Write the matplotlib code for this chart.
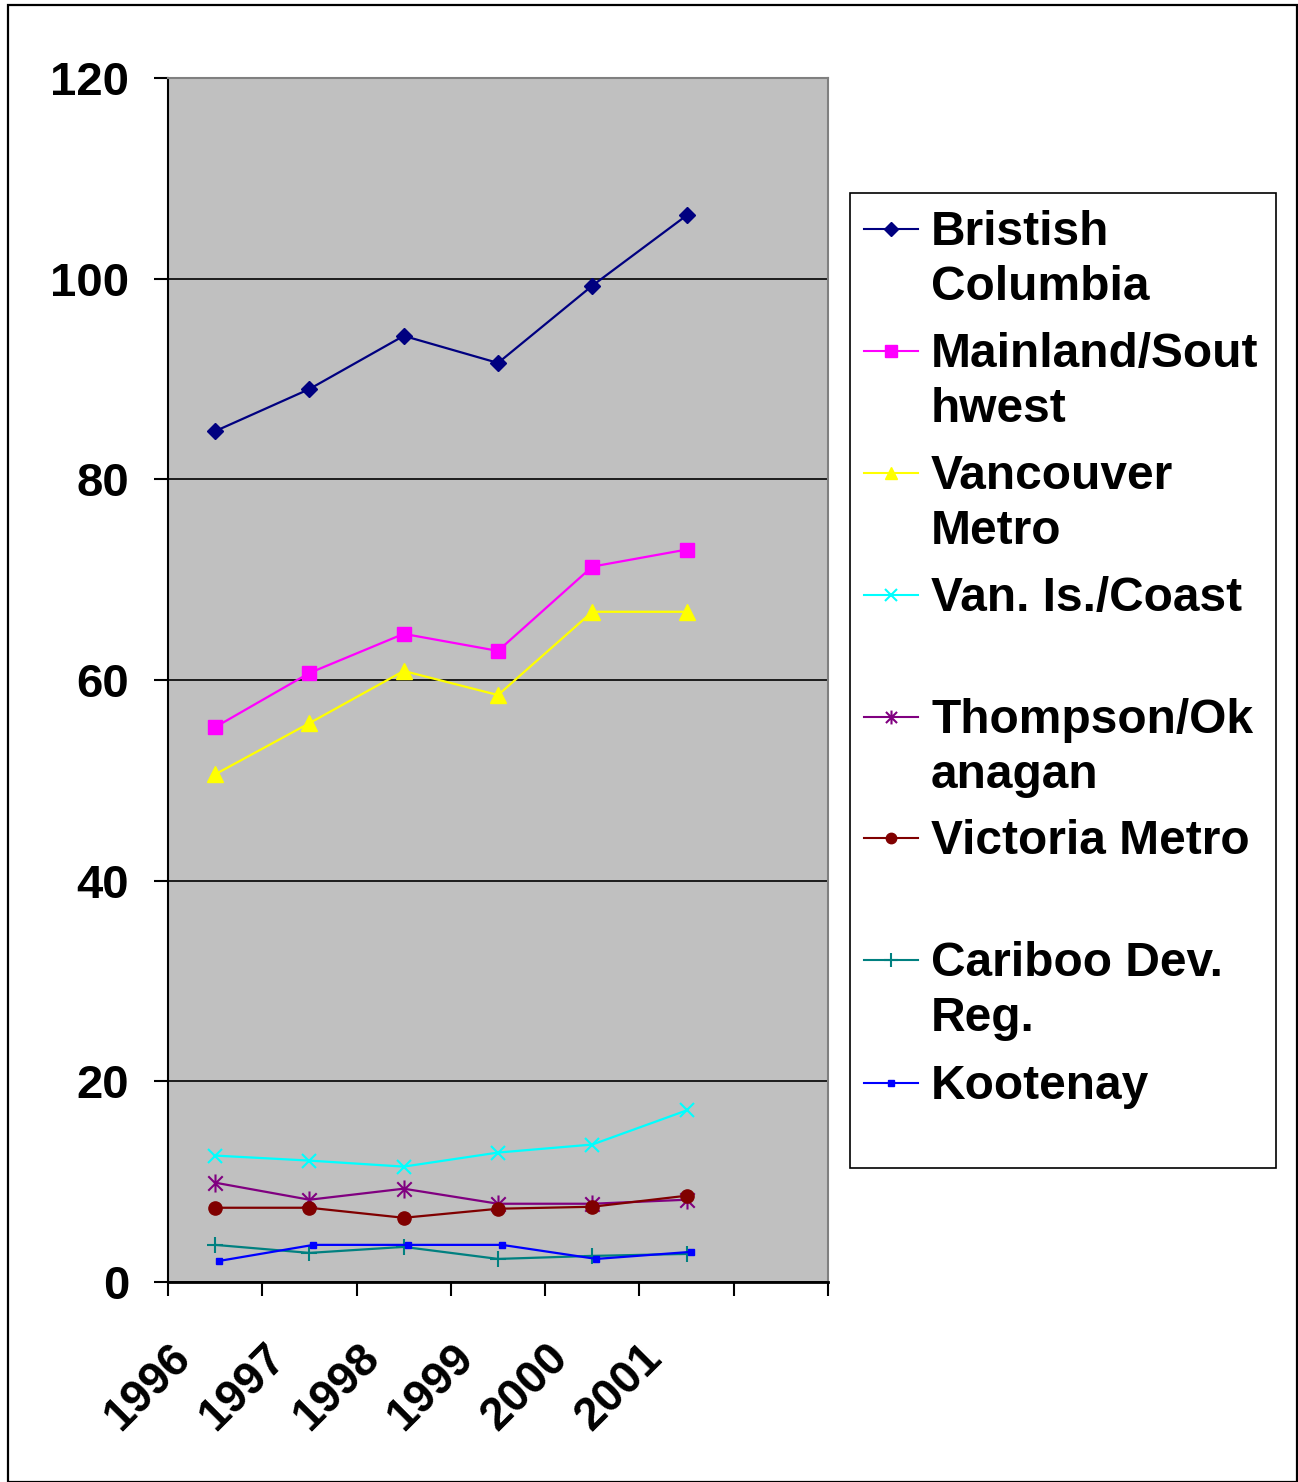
import matplotlib
matplotlib.use("Agg")
import matplotlib.pyplot as plt
from matplotlib.lines import Line2D
from matplotlib.patches import Rectangle
from matplotlib.path import Path
import matplotlib.transforms as mtransforms

plt.rcParams['font.family'] = ['Liberation Sans', 'DejaVu Sans']
plt.rcParams['font.weight'] = 'bold'

# Data
years = ['1996', '1997', '1998', '1999', '2000', '2001']
bc = [84.8, 89.0, 94.3, 91.6, 99.3, 106.3]
mainland = [55.3, 60.7, 64.6, 62.9, 71.3, 73.0]
vancouver = [50.6, 55.7, 60.9, 58.5, 66.8, 66.8]
van_island = [12.6, 12.1, 11.5, 12.9, 13.7, 17.1]
thompson = [9.9, 8.2, 9.3, 7.8, 7.8, 8.2]
victoria = [7.4, 7.4, 6.4, 7.3, 7.5, 8.6]
cariboo = [3.7, 2.9, 3.5, 2.3, 2.6, 2.8]
kootenay = [2.1, 3.7, 3.7, 3.7, 2.3, 3.0]

labels = ['Bristish\nColumbia', 'Mainland/Sout\nhwest', 'Vancouver\nMetro',
          'Van. Is./Coast', 'Thompson/Ok\nanagan', 'Victoria Metro',
          'Cariboo Dev.\nReg.', 'Kootenay']

# asterisk marker like excel's star
star = Path([(0, -1), (0, 1), (-0.8, -0.8), (0.8, 0.8), (-0.8, 0.8), (0.8, -0.8)],
            [Path.MOVETO, Path.LINETO, Path.MOVETO, Path.LINETO, Path.MOVETO, Path.LINETO])

styles = [
    dict(color='#000080', marker='D', ms=8.5),
    dict(color='#FF00FF', marker='s', ms=10.5),
    dict(color='#FFFF00', marker='^', ms=11),
    dict(color='#00FFFF', marker='x', ms=10, mew=1.5),
    dict(color='#800080', marker=star, ms=13, mew=1.5),
    dict(color='#800000', marker='o', ms=9.5),
    dict(color='#008080', marker='+', ms=12, mew=1.5),
    dict(color='#0000FF', marker='s', ms=5),
]
series = [bc, mainland, vancouver, van_island, thompson, victoria, cariboo, kootenay]

W, H = 1298, 1482
fig = plt.figure(figsize=(W / 100, H / 100), dpi=100)

# outer border
fig.patches.append(Rectangle((8 / W, 0), (1297 - 8) / W, (H - 5) / H, transform=fig.transFigure,
                             fill=False, edgecolor='black', linewidth=1.6))

ax = fig.add_axes([168 / W, (H - 1282) / H, 660 / W, 1204 / H])
ax.set_facecolor('#C0C0C0')

xpos = [i + 0.5 for i in range(len(years))]
for i, (vals, st) in enumerate(zip(series, styles)):
    tr = ax.transData
    if i == 7:
        tr = mtransforms.offset_copy(ax.transData, fig=fig, x=4, y=0, units='dots')
    ax.plot(xpos, vals, color=st['color'], lw=1.6, marker=st['marker'], ms=st['ms'],
            mfc=st['color'], mec=st['color'], mew=st.get('mew', 1), transform=tr,
            clip_on=False, zorder=3)

ax.set_xlim(0, 7)
ax.set_ylim(0, 120)
ax.set_yticks(range(0, 121, 20))
ax.set_xticks(range(0, 8))
ax.set_xticklabels([])
ax.yaxis.grid(True, color='black', lw=1.2)
ax.set_axisbelow(True)
ax.tick_params(axis='y', direction='out', length=10, width=1.5, pad=18, labelsize=34)
ax.tick_params(axis='x', direction='out', length=10, width=1.5)
for lab in ax.get_yticklabels():
    lab.set_fontweight('bold')
ax.spines['left'].set_linewidth(1.5)
ax.spines['bottom'].set_linewidth(2)
ax.spines['top'].set_color('#808080')
ax.spines['right'].set_color('#808080')
ax.spines['top'].set_linewidth(1.5)
ax.spines['right'].set_linewidth(1.5)

# rotated year labels
base = mtransforms.blended_transform_factory(ax.transData, ax.transAxes)
lab_tr = mtransforms.offset_copy(base, fig=fig, x=-31, y=-69, units='dots')
for x, yr in zip(xpos, years):
    ax.text(x, 0, yr, transform=lab_tr, rotation=45, rotation_mode='anchor',
            ha='right', va='center', fontsize=33, fontweight='bold', clip_on=False)

# legend drawn by hand to match the wrapped layout
fig.patches.append(Rectangle((850 / W, (H - 1168) / H), 426 / W, 975 / H,
                             transform=fig.transFigure, fill=False,
                             edgecolor='black', linewidth=1.2))
entry_y = [229, 351, 473, 595, 717, 838, 960, 1083]
leg_ms = [7, 8, 8, 8, 10, 7.5, 10, 4]
for y, lab, st, ms in zip(entry_y, labels, styles, leg_ms):
    fy = (H - y) / H
    fig.lines.append(Line2D([864 / W, 918 / W], [fy, fy], transform=fig.transFigure,
                            color=st['color'], lw=1.5))
    fig.lines.append(Line2D([891 / W], [fy], transform=fig.transFigure,
                            color=st['color'], marker=st['marker'], ms=ms,
                            mfc=st['color'], mec=st['color'], mew=st.get('mew', 1)))
    for k, line in enumerate(lab.split('\n')):
        fig.text(931 / W, (H - (y + 16 + 55 * k)) / H, line, fontsize=34.5,
                 fontweight='bold', ha='left', va='baseline')

fig.savefig('out.png', dpi=100)
